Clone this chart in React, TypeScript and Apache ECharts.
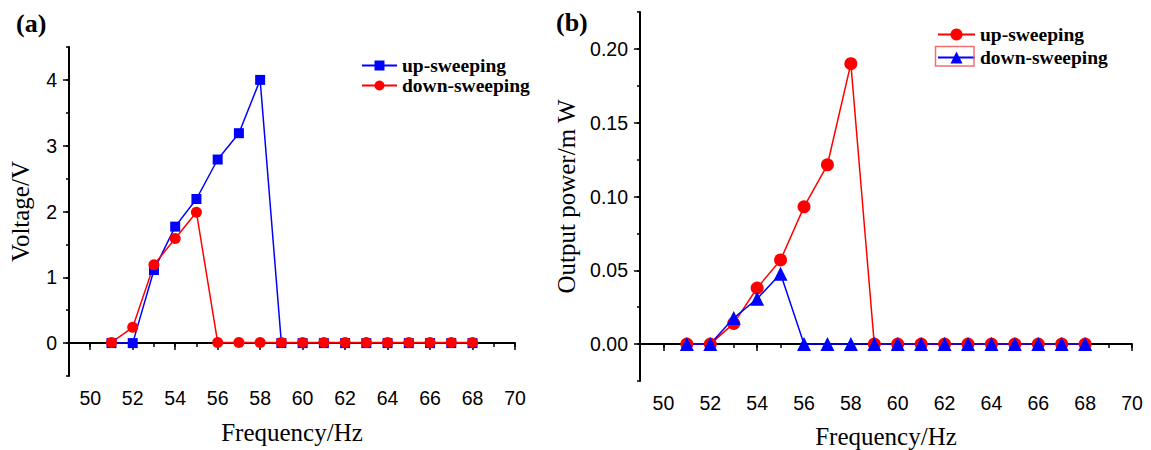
import React, { useEffect, useRef } from "react";
import * as echarts from "echarts";

const freq = [51, 52, 53, 54, 55, 56, 57, 58, 59, 60, 61, 62, 63, 64, 65, 66, 67, 68];
const voltageUp = [0, 0, 1.11, 1.77, 2.19, 2.79, 3.19, 4.0, 0, 0, 0, 0, 0, 0, 0, 0, 0, 0];
const voltageDown = [0.01, 0.24, 1.19, 1.59, 1.99, 0.01, 0.01, 0.01, 0.01, 0.01, 0.01, 0.01, 0.01, 0.01, 0.01, 0.01, 0.01, 0.01];
const powerUp = [0, 0, 0.014, 0.038, 0.057, 0.093, 0.1215, 0.19, 0, 0, 0, 0, 0, 0, 0, 0, 0, 0];
const powerDown = [0, 0, 0.0176, 0.0307, 0.0476, 0, 0, 0, 0, 0, 0, 0, 0, 0, 0, 0, 0, 0];

const xTicks = [50, 52, 54, 56, 58, 60, 62, 64, 66, 68, 70];
const voltageTicks = [0, 1, 2, 3, 4];
const powerTicks = [0, 0.05, 0.1, 0.15, 0.2];

const SERIF = "'Liberation Serif', 'Times New Roman', serif";
const SANS = "'Liberation Sans', Arial, sans-serif";
const BLUE = "#0000ff";
const RED = "#ff0000";

const pairs = (ys: number[]) => freq.map((f, i) => [f, ys[i]]);

function xAxes(nameGap: number) {
  const common = { type: "value", min: 49, max: 70, position: "bottom" };
  return [
    {
      ...common,
      interval: 1,
      name: "Frequency/Hz",
      nameLocation: "middle",
      nameGap,
      nameTextStyle: { fontFamily: SERIF, fontSize: 25, color: "#000" },
      axisLine: { show: true, lineStyle: { color: "#000", width: 2 } },
      axisTick: { show: true, length: 4, lineStyle: { color: "#000", width: 1.5 } },
      axisLabel: {
        customValues: xTicks,
        margin: 12,
        fontFamily: SANS,
        fontSize: 19.5,
        color: "#000",
      },
      splitLine: { show: false },
    },
    {
      ...common,
      interval: 1,
      axisLine: { show: false },
      axisTick: { show: true, customValues: xTicks, length: 7, lineStyle: { color: "#000", width: 1.5 } },
      axisLabel: { show: false },
      splitLine: { show: false },
    },
  ];
}

function yAxes(min: number, max: number, interval: number, ticks: number[], name: string, nameGap: number, fmt: (v: number) => string) {
  const common = { type: "value", min, max, position: "left" };
  return [
    {
      ...common,
      interval,
      name,
      nameLocation: "middle",
      nameGap,
      nameTextStyle: { fontFamily: SERIF, fontSize: 25, color: "#000" },
      axisLine: { show: true, lineStyle: { color: "#000", width: 2 } },
      axisTick: { show: true, length: 3, lineStyle: { color: "#000", width: 1.5 } },
      axisLabel: {
        customValues: ticks,
        formatter: fmt,
        margin: 12,
        fontFamily: SANS,
        fontSize: 19.5,
        color: "#000",
      },
      splitLine: { show: false },
    },
    {
      ...common,
      interval,
      axisLine: { show: false },
      axisTick: { show: true, customValues: ticks, length: 6, lineStyle: { color: "#000", width: 1.5 } },
      axisLabel: { show: false },
      splitLine: { show: false },
    },
  ];
}

const LEFT_W = 545;
const legendText = { fontFamily: SERIF, fontWeight: "bold", fontSize: 19.5, lineHeight: 19, color: "#000" };

export default function App() {
  const leftRef = useRef<HTMLDivElement>(null);
  const rightRef = useRef<HTMLDivElement>(null);

  useEffect(() => {
    const left = echarts.init(leftRef.current!, null, { renderer: "svg" });
    const right = echarts.init(rightRef.current!, null, { renderer: "svg" });

    left.setOption({
      animation: false,
      grid: { left: 69, top: 47, right: LEFT_W - 515, bottom: 74, outerBoundsMode: "none", containLabel: false },
      xAxis: xAxes(44),
      yAxis: yAxes(-0.5, 4.5, 0.5, voltageTicks, "Voltage/V", 36, (v: number) => String(v)),
      legend: {
        orient: "vertical",
        left: 361,
        top: 55.5,
        padding: 0,
        itemWidth: 35,
        itemHeight: 12.5,
        itemGap: 0,
        textStyle: legendText,
        data: ["up-sweeping", "down-sweeping"],
      },
      graphic: [
        {
          type: "text",
          left: 16,
          top: 10,
          style: { text: "(a)", fontFamily: SERIF, fontWeight: "bold", fontSize: 26, fill: "#000" },
        },
      ],
      series: [
        {
          name: "up-sweeping",
          type: "line",
          data: pairs(voltageUp),
          symbol: "rect",
          symbolSize: 10,
          lineStyle: { color: BLUE, width: 1.5 },
          itemStyle: { color: BLUE },
        },
        {
          name: "down-sweeping",
          type: "line",
          data: pairs(voltageDown),
          symbol: "circle",
          symbolSize: 11,
          lineStyle: { color: RED, width: 1.5 },
          itemStyle: { color: RED },
        },
      ],
    });

    const off = LEFT_W;
    right.setOption({
      animation: false,
      grid: { left: 640 - off, top: 12, right: 19, bottom: 69, outerBoundsMode: "none", containLabel: false },
      xAxis: xAxes(43),
      yAxis: yAxes(-0.025, 0.225, 0.025, powerTicks, "Output power/m W", 60, (v: number) => v.toFixed(2)),
      legend: {
        orient: "vertical",
        left: 937 - off,
        top: 24.5,
        padding: 0,
        itemWidth: 37,
        itemHeight: 15,
        itemGap: 3,
        textStyle: legendText,
        data: ["up-sweeping", "down-sweeping"],
      },
      graphic: [
        {
          type: "text",
          left: 556 - off,
          top: 9,
          style: { text: "(b)", fontFamily: SERIF, fontWeight: "bold", fontSize: 26, fill: "#000" },
        },
        {
          type: "rect",
          shape: { x: 935.5 - off, y: 46.5, width: 38.5, height: 19.5 },
          style: { fill: "none", stroke: "#f07070", lineWidth: 1.5 },
          z: 100,
        },
      ],
      series: [
        {
          name: "up-sweeping",
          type: "line",
          data: pairs(powerUp),
          symbol: "circle",
          symbolSize: 13,
          lineStyle: { color: RED, width: 1.5 },
          itemStyle: { color: RED },
        },
        {
          name: "down-sweeping",
          type: "line",
          data: pairs(powerDown),
          symbol: "triangle",
          symbolSize: 14,
          lineStyle: { color: BLUE, width: 1.5 },
          itemStyle: { color: BLUE },
        },
      ],
    });

    return () => {
      left.dispose();
      right.dispose();
    };
  }, []);

  return (
    <div style={{ position: "fixed", left: 0, top: 0, width: 1151, height: 450, background: "#fff" }}>
      <div ref={leftRef} style={{ position: "absolute", left: 0, top: 0, width: LEFT_W, height: 450 }} />
      <div ref={rightRef} style={{ position: "absolute", left: LEFT_W, top: 0, width: 1151 - LEFT_W, height: 450 }} />
    </div>
  );
}
